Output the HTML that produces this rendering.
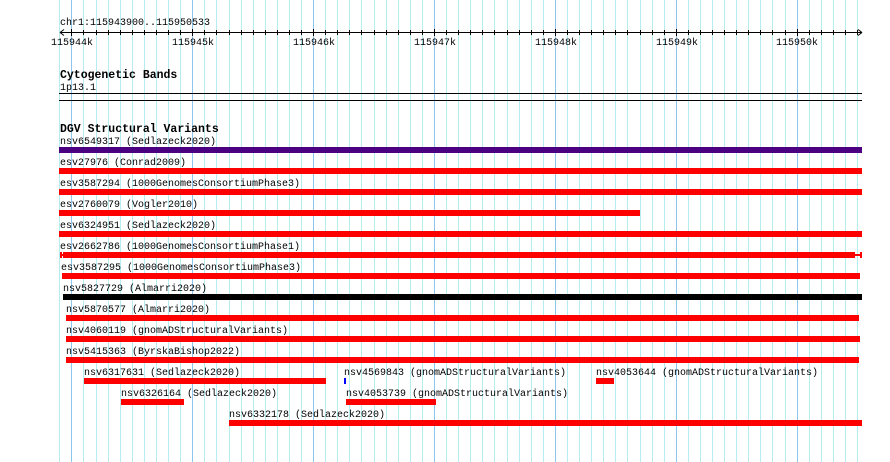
<!DOCTYPE html>
<html><head><meta charset="utf-8"><style>
html,body{margin:0;padding:0;background:#fff;}
svg{display:block;}
text{font-family:"Liberation Mono","DejaVu Sans Mono",monospace;font-size:10px;fill:#000;}
.b{font-weight:bold;font-size:11.5px;}
</style></head><body>
<svg width="890" height="462" viewBox="0 0 890 462" xmlns="http://www.w3.org/2000/svg">
<path stroke="#b4ecf0" stroke-width="1" fill="none" d="M59.5 0V462M83.5 0V462M96.5 0V462M108.5 0V462M120.5 0V462M132.5 0V462M144.5 0V462M156.5 0V462M168.5 0V462M180.5 0V462M204.5 0V462M216.5 0V462M229.5 0V462M241.5 0V462M253.5 0V462M265.5 0V462M277.5 0V462M289.5 0V462M301.5 0V462M325.5 0V462M337.5 0V462M349.5 0V462M361.5 0V462M374.5 0V462M386.5 0V462M398.5 0V462M410.5 0V462M422.5 0V462M446.5 0V462M458.5 0V462M470.5 0V462M482.5 0V462M494.5 0V462M507.5 0V462M519.5 0V462M531.5 0V462M543.5 0V462M567.5 0V462M579.5 0V462M591.5 0V462M603.5 0V462M615.5 0V462M627.5 0V462M640.5 0V462M652.5 0V462M664.5 0V462M688.5 0V462M700.5 0V462M712.5 0V462M724.5 0V462M736.5 0V462M748.5 0V462M760.5 0V462M772.5 0V462M785.5 0V462M809.5 0V462M821.5 0V462M833.5 0V462M845.5 0V462M857.5 0V462"/>
<path stroke="#8cc6ec" stroke-width="1" fill="none" d="M71.5 0V462M192.5 0V462M313.5 0V462M434.5 0V462M555.5 0V462M676.5 0V462M797.5 0V462"/>
<!-- axis -->
<text x="60" y="25">chr1:115943900..115950533</text>
<path stroke="#000" stroke-width="1" fill="none" d="M60 32.5H862M60 32.5l4-3M60 32.5l4 3M862 32.5l-4-3M862 32.5l-4 3"/>
<path stroke="#000" stroke-width="1" fill="none" d="M71.5 29V36M83.5 30V35M96.5 30V35M108.5 30V35M120.5 30V35M132.5 30V35M144.5 30V35M156.5 30V35M168.5 30V35M180.5 30V35M192.5 29V36M204.5 30V35M216.5 30V35M229.5 30V35M241.5 30V35M253.5 30V35M265.5 30V35M277.5 30V35M289.5 30V35M301.5 30V35M313.5 29V36M325.5 30V35M337.5 30V35M349.5 30V35M361.5 30V35M374.5 30V35M386.5 30V35M398.5 30V35M410.5 30V35M422.5 30V35M434.5 29V36M446.5 30V35M458.5 30V35M470.5 30V35M482.5 30V35M494.5 30V35M507.5 30V35M519.5 30V35M531.5 30V35M543.5 30V35M555.5 29V36M567.5 30V35M579.5 30V35M591.5 30V35M603.5 30V35M615.5 30V35M627.5 30V35M640.5 30V35M652.5 30V35M664.5 30V35M676.5 29V36M688.5 30V35M700.5 30V35M712.5 30V35M724.5 30V35M736.5 30V35M748.5 30V35M760.5 30V35M772.5 30V35M785.5 30V35M797.5 29V36M809.5 30V35M821.5 30V35M833.5 30V35M845.5 30V35M857.5 30V35"/>
<g text-anchor="middle">
<text x="72" y="45">115944k</text><text x="193" y="45">115945k</text><text x="314" y="45">115946k</text><text x="435" y="45">115947k</text><text x="556" y="45">115948k</text><text x="677" y="45">115949k</text><text x="797" y="45">115950k</text>
</g>
<!-- cytobands -->
<text class="b" x="60" y="78">Cytogenetic Bands</text>
<text x="60" y="90">1p13.1</text>
<rect x="59" y="93" width="803" height="1" fill="#000"/>
<rect x="59" y="100" width="803" height="1" fill="#000"/>
<!-- DGV -->
<text class="b" x="60" y="132">DGV Structural Variants</text>
<text x="60" y="144">nsv6549317 (Sedlazeck2020)</text>
<rect x="59" y="147" width="803" height="6" fill="#4b0082"/>
<text x="60" y="165">esv27976 (Conrad2009)</text>
<rect x="59" y="168" width="803" height="6" fill="#f00"/>
<text x="60" y="186">esv3587294 (1000GenomesConsortiumPhase3)</text>
<rect x="59" y="189" width="803" height="6" fill="#f00"/>
<text x="60" y="207">esv2760079 (Vogler2010)</text>
<rect x="59" y="210" width="581" height="6" fill="#f00"/>
<text x="60" y="228">esv6324951 (Sedlazeck2020)</text>
<rect x="59" y="231" width="803" height="6" fill="#f00"/>
<text x="60" y="249">esv2662786 (1000GenomesConsortiumPhase1)</text>
<rect x="60" y="252" width="2" height="6" fill="#f00"/>
<rect x="60" y="254" width="4" height="2" fill="#f00"/>
<rect x="63" y="252" width="792" height="6" fill="#f00"/>
<rect x="855" y="254" width="6" height="2" fill="#f00"/>
<rect x="860" y="252" width="2" height="6" fill="#f00"/>
<text x="61" y="270">esv3587295 (1000GenomesConsortiumPhase3)</text>
<rect x="62" y="273" width="798" height="6" fill="#f00"/>
<text x="63" y="291">nsv5827729 (Almarri2020)</text>
<rect x="63" y="294" width="799" height="6" fill="#000"/>
<text x="66" y="312">nsv5870577 (Almarri2020)</text>
<rect x="66" y="315" width="793" height="6" fill="#f00"/>
<text x="66" y="333">nsv4060119 (gnomADStructuralVariants)</text>
<rect x="66" y="336" width="794" height="6" fill="#f00"/>
<text x="66" y="354">nsv5415363 (ByrskaBishop2022)</text>
<rect x="66" y="357" width="793" height="6" fill="#f00"/>
<text x="84" y="375">nsv6317631 (Sedlazeck2020)</text>
<rect x="84" y="378" width="242" height="6" fill="#f00"/>
<text x="344" y="375">nsv4569843 (gnomADStructuralVariants)</text>
<rect x="344" y="378" width="2" height="6" fill="#00f"/>
<text x="596" y="375">nsv4053644 (gnomADStructuralVariants)</text>
<rect x="596" y="378" width="18" height="6" fill="#f00"/>
<text x="121" y="396">nsv6326164 (Sedlazeck2020)</text>
<rect x="121" y="399" width="63" height="6" fill="#f00"/>
<text x="346" y="396">nsv4053739 (gnomADStructuralVariants)</text>
<rect x="346" y="399" width="90" height="6" fill="#f00"/>
<text x="229" y="417">nsv6332178 (Sedlazeck2020)</text>
<rect x="229" y="420" width="633" height="6" fill="#f00"/>
</svg>
</body></html>
